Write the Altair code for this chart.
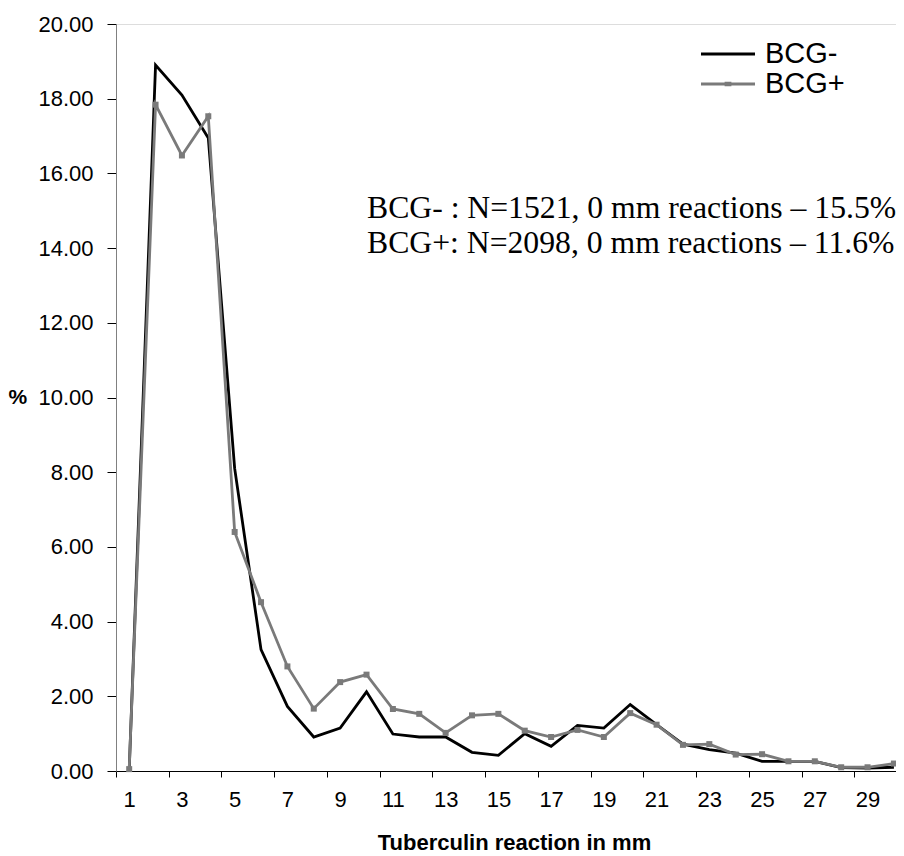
import altair as alt
import pandas as pd

mm = list(range(1, 31))
bcg_neg = [0.0, 18.9, 18.1, 16.95, 8.1, 3.25, 1.73, 0.91, 1.15, 2.12,
           0.99, 0.91, 0.91, 0.5, 0.42, 1.0, 0.66, 1.22, 1.15, 1.78,
           1.24, 0.72, 0.57, 0.48, 0.26, 0.26, 0.26, 0.09, 0.08, 0.1]
bcg_pos = [0.05, 17.84, 16.48, 17.53, 6.4, 4.52, 2.8, 1.67, 2.38, 2.58,
           1.66, 1.53, 1.02, 1.49, 1.53, 1.08, 0.91, 1.1, 0.91, 1.55,
           1.24, 0.7, 0.72, 0.44, 0.45, 0.26, 0.26, 0.1, 0.1, 0.2]
series = ["BCG-", "BCG+"]
colors = ["#000000", "#7a7a7a"]
legend_shapes = ["M-2,0H2", "M-2,0H2M-0.14,-0.06H0.14V0.06H-0.14Z"]
y_ticks = [0, 2, 4, 6, 8, 10, 12, 14, 16, 18, 20]
x_ticks = [i + 0.5 for i in range(0, 30)]
note_lines = ["BCG- : N=1521, 0 mm reactions \u2013 15.5%",
              "BCG+: N=2098, 0 mm reactions \u2013 11.6%"]

df = pd.DataFrame({
    "mm": mm * 2,
    "pct": bcg_neg + bcg_pos,
    "series": [series[0]] * 30 + [series[1]] * 30,
})

W, H = 780, 747
x_enc = alt.X(
    "mm:Q",
    scale=alt.Scale(domain=[0.5, 0.5 + W / 26.37], nice=False, zero=False),
    axis=alt.Axis(
        values=x_ticks,
        labelExpr="(datum.value + 0.5) % 2 == 1 ? format(datum.value + 0.5, 'd') : ''",
        labelOffset=13.2,
        labelOverlap=False,
        labelFlush=False,
        grid=False,
        tickSize=6,
        tickColor="#000000",
        domainColor="#000000",
        labelFont="Liberation Sans",
        labelFontSize=22,
        labelColor="#000000",
        labelPadding=12,
        title="Tuberculin reaction in mm",
        titleFont="Liberation Sans",
        titleFontSize=22,
        titleFontWeight="bold",
        titleColor="#000000",
        titleX=398,
        titleY=61,
        titleBaseline="top",
    ),
)
y_enc = alt.Y(
    "pct:Q",
    scale=alt.Scale(domain=[0, 20], nice=False),
    axis=alt.Axis(
        values=y_ticks,
        format=".2f",
        grid=False,
        tickSize=9,
        tickColor="#000000",
        domainColor="#808080",
        labelFont="Liberation Sans",
        labelFontSize=22,
        labelColor="#000000",
        labelPadding=14,
        title="%",
        titleAngle=0,
        titleFont="Liberation Sans",
        titleFontSize=21,
        titleFontWeight="bold",
        titleColor="#000000",
        titleAlign="left",
        titleBaseline="middle",
        titleX=-108,
        titleY=373,
    ),
)

legend = alt.Legend(
    title=None,
    orient="none",
    legendX=597,
    legendY=15,
    symbolSize=729,
    symbolStrokeWidth=3,
    symbolOpacity=1,
    symbolFillColor="transparent",
    labelFont="Liberation Sans",
    labelFontSize=29,
    labelColor="#000000",
    labelOffset=22,
    rowPadding=-2,
    padding=0,
)

color_scale = alt.Scale(domain=series, range=colors)

lines = alt.Chart(df).mark_line(strokeWidth=2.8).encode(
    x=x_enc,
    y=y_enc,
    color=alt.Color("series:N", scale=color_scale, legend=legend),
    order=alt.Order("mm:Q"),
)

legend_layer = alt.Chart(df).mark_point(filled=False, size=0, strokeOpacity=0).encode(
    x="mm:Q", y="pct:Q",
    color=alt.Color("series:N", scale=color_scale, legend=legend),
    shape=alt.Shape("series:N", scale=alt.Scale(domain=series, range=legend_shapes), legend=legend),
)

pts = alt.Chart(df).transform_filter(alt.datum.series == "BCG+").mark_point(
    shape="square", filled=True, size=36, color="#7a7a7a", opacity=1
).encode(x="mm:Q", y="pct:Q")

note = alt.Chart(df).transform_filter(alt.datum.mm == 1).transform_filter(
    alt.datum.series == "BCG-").mark_text(
    align="left", baseline="alphabetic", font="Liberation Serif",
    fontSize=31.7, lineHeight=35, color="#000000"
).encode(x=alt.value(251), y=alt.value(194), text=alt.value(note_lines))

chart = alt.layer(lines, legend_layer, pts, note).properties(
    width=W, height=H,
    autosize=alt.AutoSizeParams(type="none"),
    padding={"left": 108, "top": 16, "right": 0, "bottom": 85},
).configure_view(stroke=None).configure(background="white")

chart.save("out.html", embed_options={"renderer": "svg", "actions": False})
